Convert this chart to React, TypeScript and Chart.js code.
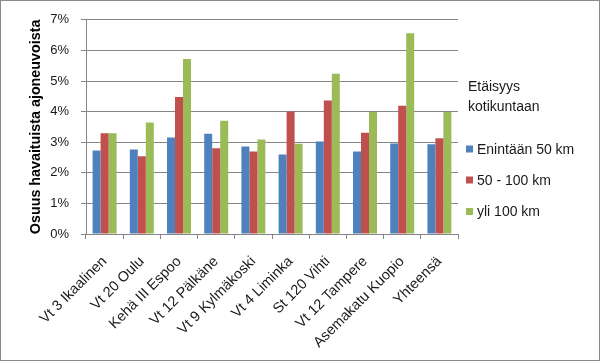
import React, { useEffect, useRef } from "react";
import { Chart, registerables } from "chart.js";

Chart.register(...registerables);

const categories = [
  "Vt 3 Ikaalinen",
  "Vt 20 Oulu",
  "Kehä III Espoo",
  "Vt 12 Pälkäne",
  "Vt 9 Kylmäkoski",
  "Vt 4 Liminka",
  "St 120 Vihti",
  "Vt 12 Tampere",
  "Asemakatu Kuopio",
  "Yhteensä",
];
const enintaan50 = [2.73, 2.76, 3.15, 3.28, 2.86, 2.6, 3.02, 2.7, 2.96, 2.93];
const km50to100 = [3.29, 2.54, 4.48, 2.8, 2.7, 4.0, 4.36, 3.31, 4.19, 3.13];
const yli100 = [3.29, 3.64, 5.72, 3.7, 3.09, 2.95, 5.24, 3.99, 6.56, 3.99];
const seriesNames = ["Enintään 50 km", "50 - 100 km", "yli 100 km"];
const seriesColors = ["#4F81BD", "#C0504D", "#9BBB59"];
const legendTitle = ["Etäisyys", "kotikuntaan"];
const yAxisTitle = "Osuus havaituista ajoneuvoista";
const yMin = 0;
const yMax = 7;
const yStep = 1;

const FONT = "'Liberation Sans', Arial, sans-serif";
const GRID = "#868686";
const TEXT = "#1a1a1a";

const framePlugin = {
  id: "frame",
  beforeDraw(chart: any) {
    const ctx = chart.ctx;
    ctx.save();
    ctx.fillStyle = "#ffffff";
    ctx.fillRect(0, 0, chart.width, chart.height);
    ctx.restore();
  },
  afterDraw(chart: any) {
    const ctx = chart.ctx;
    ctx.save();
    ctx.strokeStyle = "#8a8a8a";
    ctx.lineWidth = 1;
    ctx.strokeRect(0.5, 0.5, chart.width - 1, chart.height - 1);

    // legend
    const x0 = 468;
    ctx.fillStyle = TEXT;
    ctx.font = `14px ${FONT}`;
    ctx.textBaseline = "alphabetic";
    ctx.textAlign = "left";
    ctx.fillText(legendTitle[0], x0, 91);
    ctx.fillText(legendTitle[1], x0, 111);
    const ys = [149.5, 180.5, 212];
    chart.data.datasets.forEach((ds: any, i: number) => {
      ctx.fillStyle = ds.backgroundColor;
      ctx.fillRect(x0 - 2, ys[i] - 4, 7, 7);
      ctx.fillStyle = TEXT;
      ctx.textBaseline = "middle";
      ctx.fillText(ds.label, x0 + 9, ys[i] + 0.5);
    });
    ctx.restore();
  },
};

export default function App() {
  const ref = useRef<HTMLCanvasElement | null>(null);
  useEffect(() => {
    document.body.style.margin = "0";
    const canvas = ref.current!;
    const chart = new Chart(canvas, {
      type: "bar",
      data: {
        labels: categories,
        datasets: [
          { label: seriesNames[0], data: enintaan50, backgroundColor: seriesColors[0] },
          { label: seriesNames[1], data: km50to100, backgroundColor: seriesColors[1] },
          { label: seriesNames[2], data: yli100, backgroundColor: seriesColors[2] },
        ],
      },
      options: {
        responsive: false,
        animation: false,
        devicePixelRatio: 1,
        datasets: {
          bar: { categoryPercentage: 0.645, barPercentage: 1, borderWidth: 0 },
        },
        layout: { padding: { top: 18, right: 142, left: 0, bottom: 0 } },
        plugins: { legend: { display: false }, tooltip: { enabled: false } },
        scales: {
          x: {
            type: "category",
            grid: {
              offset: true,
              drawOnChartArea: false,
              drawTicks: true,
              tickLength: 5,
              color: GRID,
            },
            border: { display: true, color: GRID },
            ticks: {
              maxRotation: 45,
              minRotation: 45,
              color: TEXT,
              font: { family: FONT, size: 14.5 },
              padding: 14,
            },
            afterFit: (scale: any) => {
              scale.height = 127;
            },
          },
          y: {
            min: yMin,
            max: yMax,
            grid: { color: GRID, tickLength: 5, drawTicks: true },
            border: { display: true, color: GRID },
            ticks: {
              stepSize: yStep,
              color: TEXT,
              padding: 12,
              font: { family: FONT, size: 13 },
              callback: (v: any) => `${v}%`,
            },
            title: {
              display: true,
              text: yAxisTitle,
              color: "#000",
              font: { family: FONT, size: 14.3, weight: "bold" },
              padding: { top: 27.5, bottom: 2 },
            },
            afterFit: (scale: any) => {
              scale.width = 86;
            },
          },
        },
      },
      plugins: [framePlugin],
    });
    return () => chart.destroy();
  }, []);
  return (
    <div style={{ width: 600, height: 361, position: "relative" }}>
      <canvas ref={ref} width={600} height={361} style={{ display: "block" }} />
    </div>
  );
}
